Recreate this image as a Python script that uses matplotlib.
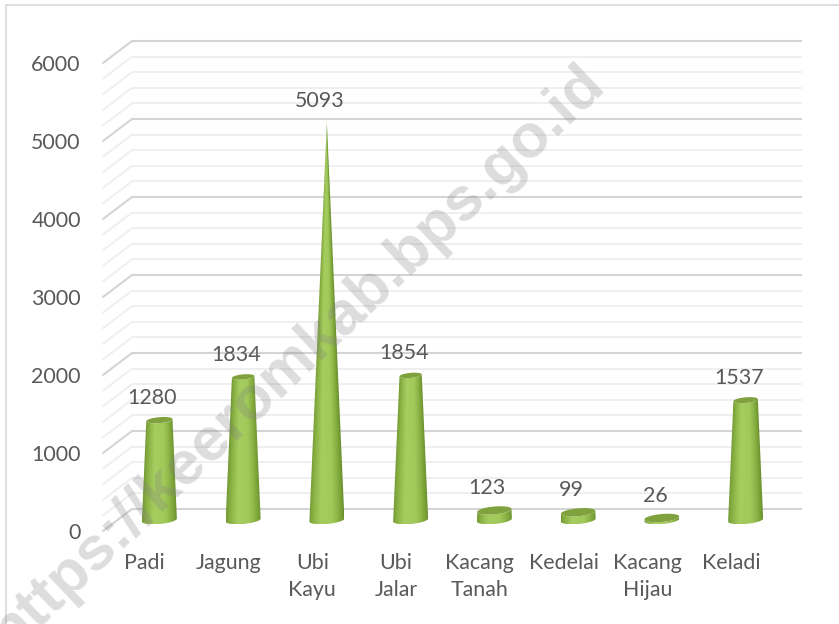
import numpy as np
import matplotlib
matplotlib.use("Agg")
import matplotlib.pyplot as plt
from matplotlib.colors import LinearSegmentedColormap
from matplotlib.patches import Polygon
from matplotlib.transforms import ScaledTranslation

categories = ["Padi", "Jagung", "Ubi\nKayu", "Ubi\nJalar", "Kacang\nTanah", "Kedelai", "Kacang\nHijau", "Keladi"]
values = [1280, 1834, 5093, 1854, 123, 99, 26, 1537]
yticks = [0, 1000, 2000, 3000, 4000, 5000, 6000]
minor_ticks = [v for v in range(0, 6001, 200)]
watermark = "https://keeromkab.bps.go.id"

W, H = 839, 624
DPI = 100
fig = plt.figure(figsize=(W / DPI, H / DPI), dpi=DPI, facecolor="white")
L, R, B, T = 103, 773, 531, 63
ax = fig.add_axes([L / W, 1 - B / H, (R - L) / W, (B - T) / H])
ax.set_xlim(-0.5, 7.5)
ax.set_ylim(0, 6000)
ax.patch.set_visible(False)
for s in ax.spines.values():
    s.set_visible(False)

FONT = "Lato"
TXT = "#595959"
FS = 15.4
ax.set_yticks(yticks)
ax.set_yticklabels([str(v) for v in yticks], fontsize=FS, color=TXT, family=FONT)
ax.set_xticks(range(len(categories)))
ax.set_xticklabels(categories, fontsize=FS, color=TXT, family=FONT, linespacing=1.45)
ax.tick_params(axis="y", length=0, pad=16)
ax.tick_params(axis="x", length=0, pad=16)

px = 72 / DPI / 72
def shift(dx, dy):
    return ax.transData + ScaledTranslation(dx * px, dy * px, fig.dpi_scale_trans)

back = shift(29, 22)
mid = shift(14.5, 11)

ux = (R - L) / 8          # pixels per category
uy = (B - T) / 6000       # pixels per value
for v in minor_ticks:
    major = v % 1000 == 0
    c, lw = ("#d4d4d4", 1.5) if major else ("#efefef", 1.4)
    z = 1.2 if major else 1.1
    ax.plot([-0.5, 7.5], [v, v], color=c, lw=lw, transform=back, clip_on=False, zorder=z,
            solid_capstyle="butt")
    ax.plot([-0.5, -0.5 + 29 / ux], [v, v + 22 / uy], color=c, lw=lw, transform=ax.transData,
            clip_on=False, zorder=z, solid_capstyle="round")

# truncated cones: a shaded image clipped to each cone's outline
cmap = LinearSegmentedColormap.from_list(
    "cone", ["#6c9430", "#86ad40", "#a5cd5f", "#a0c95a", "#7fa63a", "#648c2a"])
A = 17.5 / ux             # base half width, category units
Bb = 4.0 / uy             # half height of the base ellipse, value units
TILT = 0.085 * ux / uy    # rise of the ellipse, value units per category unit
VMAX = max(values)
theta = np.linspace(np.pi, 2 * np.pi, 71)

def ellipse(cx, v, t):
    r = 1 - v / VMAX
    dx = A * r * np.cos(t)
    return cx + dx, v + Bb * r * np.sin(t) + TILT * dx

for i, v in enumerate(values):
    x0, y0 = ellipse(i, 0, theta)
    x1, y1 = ellipse(i, v, theta)
    outline = np.column_stack([np.r_[x0, x1[::-1]], np.r_[y0, y1[::-1]]])
    clip = Polygon(outline, closed=True, transform=mid, fc="none", ec="none")
    ax.add_patch(clip)
    # shading follows the narrowing of the cone
    ylo, yhi = outline[:, 1].min(), outline[:, 1].max()
    xs = np.linspace(-A, A, 241)
    ys = np.linspace(ylo, yhi, 800)
    gx, gy = np.meshgrid(xs, ys)
    half = np.maximum(A * (1 - np.clip(gy, 0, v) / VMAX), 1e-4)
    shade = np.arccos(np.clip(-gx / half, -1, 1)) / np.pi
    im = ax.imshow(shade, extent=(i - A, i + A, ylo, yhi), origin="lower", aspect="auto",
                   cmap=cmap, vmin=0, vmax=1, interpolation="bilinear", transform=mid, zorder=3)
    im.set_clip_path(clip)
    tc = np.linspace(0, 2 * np.pi, 90)
    xc, yc = ellipse(i, v, tc)
    ax.fill(xc, yc, color="#7fa13e", lw=0, transform=mid, clip_on=False, zorder=3.1)
    ax.annotate(str(v), xy=(i, v), xycoords=mid, xytext=(-7 * 0.72, 22 * 0.72),
                textcoords="offset points", ha="center", va="center",
                fontsize=FS, color=TXT, family=FONT, zorder=4, annotation_clip=False)

ax.set_xlim(-0.5, 7.5)
ax.set_ylim(0, 6000)

# chart frame: only the top and left edges fall inside the picture
fig.add_artist(plt.Line2D([5.5 / W, 5.5 / W, 1], [0, 1 - 4.5 / H, 1 - 4.5 / H], transform=fig.transFigure,
                          color="#d9d9d9", lw=1.2))

# watermark
fig.text(298 / W, 1 - 358 / H, watermark, rotation=43.5, rotation_mode="anchor", ha="center", va="center",
         fontsize=44.5, fontweight="bold", family="Liberation Sans", color="#808080", alpha=0.27, zorder=10)

fig.savefig("out.png", dpi=DPI, facecolor="white")
